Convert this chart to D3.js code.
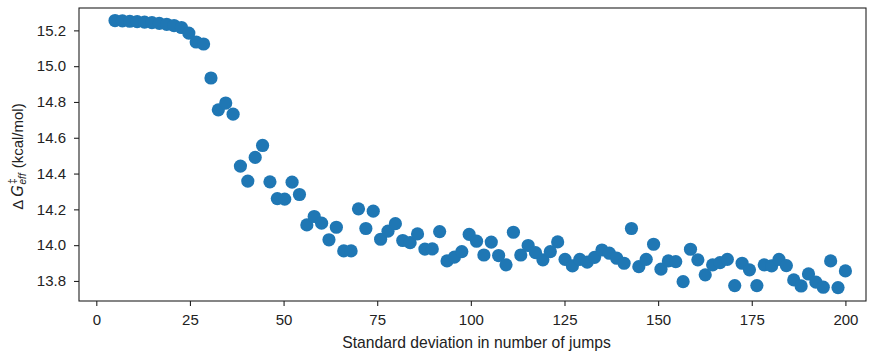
<!DOCTYPE html>
<html>
<head>
<meta charset="utf-8">
<script src="https://cdn.jsdelivr.net/npm/d3@7"></script>
<style>
  html, body { margin: 0; padding: 0; background: #fff; }
  svg { display: block; }
  text { font-family: "Liberation Sans", Arial, sans-serif; fill: #222; }
</style>
</head>
<body>
<svg id="chart" width="869" height="352"></svg>
<script>
// Standard deviation of the jump count (x) and effective barrier (y, kcal/mol)
const jumpStd = [
  5.0, 6.97, 8.94, 10.91, 12.88, 14.85, 16.82, 18.79, 20.76, 22.73,
  24.7, 26.67, 28.64, 30.61, 32.58, 34.55, 36.52, 38.48, 40.45, 42.42,
  44.39, 46.36, 48.33, 50.3, 52.27, 54.24, 56.21, 58.18, 60.15, 62.12,
  64.09, 66.06, 68.03, 70.0, 71.97, 73.94, 75.91, 77.88, 79.85, 81.82,
  83.79, 85.76, 87.73, 89.7, 91.67, 93.64, 95.61, 97.58, 99.55, 101.52,
  103.48, 105.45, 107.42, 109.39, 111.36, 113.33, 115.3, 117.27, 119.24, 121.21,
  123.18, 125.15, 127.12, 129.09, 131.06, 133.03, 135.0, 136.97, 138.94, 140.91,
  142.88, 144.85, 146.82, 148.79, 150.76, 152.73, 154.7, 156.67, 158.64, 160.61,
  162.58, 164.55, 166.52, 168.48, 170.45, 172.42, 174.39, 176.36, 178.33, 180.3,
  182.27, 184.24, 186.21, 188.18, 190.15, 192.12, 194.09, 196.06, 198.03, 200.0
];
const deltaG = [
  15.255, 15.253, 15.251, 15.249, 15.246, 15.243, 15.239, 15.234, 15.227, 15.216,
  15.185, 15.135, 15.124, 14.934, 14.756, 14.794, 14.732, 14.442, 14.358, 14.49,
  14.557, 14.354, 14.26, 14.257, 14.352, 14.283, 14.113, 14.16, 14.123, 14.03,
  14.1, 13.968, 13.968, 14.203, 14.093, 14.19, 14.033, 14.078, 14.12, 14.026,
  14.014, 14.063, 13.978, 13.979, 14.076, 13.912, 13.933, 13.964, 14.06, 14.022,
  13.945, 14.017, 13.942, 13.89, 14.072, 13.945, 13.998, 13.958, 13.918, 13.964,
  14.018, 13.921, 13.884, 13.921, 13.905, 13.932, 13.973, 13.955, 13.927, 13.899,
  14.093, 13.88, 13.921, 14.005, 13.866, 13.912, 13.908, 13.796, 13.977, 13.918,
  13.834, 13.89, 13.902, 13.921, 13.774, 13.899, 13.862, 13.774, 13.89, 13.884,
  13.921, 13.886, 13.806, 13.772, 13.839, 13.793, 13.765, 13.912, 13.763, 13.856
];
const xTicks = [0, 25, 50, 75, 100, 125, 150, 175, 200];
const yTicks = [13.8, 14.0, 14.2, 14.4, 14.6, 14.8, 15.0, 15.2];

const svg = d3.select("#chart");
const plot = { left: 79, right: 866, top: 8, bottom: 301 };

const x = d3.scaleLinear().domain([-4.62, 205.5]).range([plot.left, plot.right]);
const y = d3.scaleLinear().domain([13.688, 15.325]).range([plot.bottom, plot.top]);

// Points
svg.append("g")
  .selectAll("circle")
  .data(deltaG.map((v, i) => [jumpStd[i], v]))
  .join("circle")
  .attr("cx", d => x(d[0]))
  .attr("cy", d => y(d[1]))
  .attr("r", 6.6)
  .attr("fill", "#1f77b4");

// Axes
const xAxis = d3.axisBottom(x).tickValues(xTicks).tickFormat(d3.format("d")).tickSize(5).tickPadding(8);
const yAxis = d3.axisLeft(y).tickValues(yTicks).tickFormat(d3.format(".1f")).tickSize(5).tickPadding(8);

const gx = svg.append("g").attr("transform", `translate(0,${plot.bottom})`).call(xAxis);
const gy = svg.append("g").attr("transform", `translate(${plot.left},0)`).call(yAxis);
[gx, gy].forEach(g => {
  g.select(".domain").remove();
  g.selectAll(".tick line").attr("stroke", "#222").attr("stroke-width", 1.1);
  g.selectAll(".tick text").attr("font-size", 15).attr("fill", "#222")
    .attr("font-family", "Liberation Sans, Arial, sans-serif");
});

// Frame
svg.append("rect")
  .attr("x", plot.left).attr("y", plot.top)
  .attr("width", plot.right - plot.left).attr("height", plot.bottom - plot.top)
  .attr("fill", "none").attr("stroke", "#222").attr("stroke-width", 1.1);

// Axis titles
svg.append("text")
  .attr("x", (plot.left + plot.right) / 2 + 4)
  .attr("y", 348)
  .attr("text-anchor", "middle")
  .attr("font-size", 15.7)
  .text("Standard deviation in number of jumps");

const yl = svg.append("text")
  .attr("transform", `translate(23,${(plot.top + plot.bottom) / 2 + 2}) rotate(-90)`)
  .attr("text-anchor", "middle")
  .attr("font-size", 15);
yl.append("tspan").text("Δ");
yl.append("tspan").attr("font-style", "italic").attr("font-family", "DejaVu Sans").attr("dx", 3).text("G");
yl.append("tspan").attr("font-size", 10).attr("dy", -7).attr("dx", 1).text("‡");
yl.append("tspan").attr("font-size", 10).attr("font-style", "italic").attr("dy", 10).attr("dx", -6).text("eff");
yl.append("tspan").attr("dy", -3).attr("dx", 5).text("(kcal/mol)");
</script>
</body>
</html>
